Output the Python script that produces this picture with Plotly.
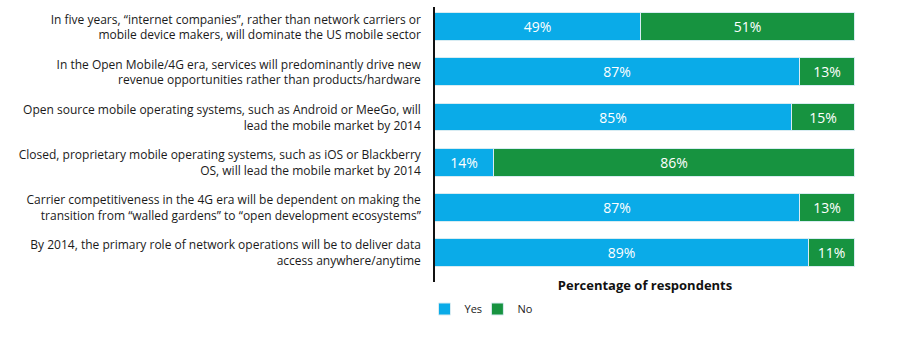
import plotly.graph_objects as go

statements = [
    "In five years, “internet companies”, rather than network carriers or<br>mobile device makers, will dominate the US mobile sector",
    "In the Open Mobile/4G era, services will predominantly drive new<br>revenue opportunities rather than products/hardware",
    "Open source mobile operating systems, such as Android or MeeGo, will<br>lead the mobile market by 2014",
    "Closed, proprietary mobile operating systems, such as iOS or Blackberry<br>OS, will lead the mobile market by 2014",
    "Carrier competitiveness in the 4G era will be dependent on making the<br>transition from “walled gardens” to “open development ecosystems”",
    "By 2014, the primary role of network operations will be to deliver data<br>access anywhere/anytime",
]
yes_pct = [49, 87, 85, 14, 87, 89]
no_pct = [51, 13, 15, 86, 13, 11]

FONT = "Open Sans, Noto Sans, sans-serif"
BLUE = "#0AABE8"
GREEN = "#179340"

fig = go.Figure()
for name, vals, color, leg in [("Yes", yes_pct, BLUE, "legend"),
                               ("No", no_pct, GREEN, "legend2")]:
    fig.add_trace(go.Bar(
        name=name,
        legend=leg,
        y=list(range(len(statements))),
        x=vals,
        orientation="h",
        width=0.62,
        marker=dict(color=color, line=dict(color="#D8ECF2", width=1)),
        text=[f"{v}%" for v in vals],
        textposition="inside",
        insidetextanchor="middle",
        textfont=dict(color="white", size=14, family=FONT),
        hoverinfo="skip",
    ))

legend_style = dict(
    orientation="h",
    xref="paper", xanchor="left",
    yref="container", y=1 - 309 / 337, yanchor="middle",
    font=dict(size=11, family=FONT),
    itemwidth=30,
    bgcolor="rgba(0,0,0,0)",
)

fig.update_layout(
    barmode="stack",
    width=905,
    height=337,
    margin=dict(l=435, r=50, t=7, b=55, autoexpand=False),
    paper_bgcolor="white",
    plot_bgcolor="white",
    font=dict(family=FONT, color="#1a1a1a", size=12),
    bargap=0,
    uniformtext=dict(minsize=14, mode="show"),
    xaxis=dict(
        range=[0, 100],
        showticklabels=False,
        showgrid=False,
        zeroline=False,
        ticks="",
        automargin=False,
        title=dict(text="<b>Percentage of respondents</b>",
                   font=dict(size=13, family=FONT, color="#111"), standoff=0),
    ),
    yaxis=dict(
        tickmode="array",
        tickvals=list(range(len(statements))),
        ticktext=statements,
        range=[5.647, -0.45],
        showgrid=False,
        zeroline=False,
        showline=True,
        linecolor="#111",
        linewidth=1.5,
        ticks="",
        automargin=False,
        ticklabelstandoff=10,
        tickfont=dict(size=12, family=FONT, color="#1a1a1a"),
    ),
    legend=dict(legend_style, x=-0.025),
    legend2=dict(legend_style, x=0.101),
    showlegend=True,
)

fig.write_html("out.html")
